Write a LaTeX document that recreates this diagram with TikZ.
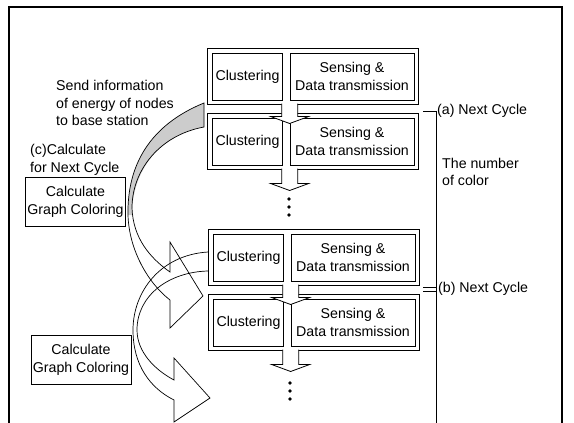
\documentclass[tikz,border=0pt]{standalone}
\usepackage{fontspec}
\setmainfont{Liberation Sans}
\usetikzlibrary{calc}

\tikzset{
  rowframe/.style={draw, line width=1pt, minimum width=211pt, minimum height=56pt, inner sep=0pt},
  cbox/.style={draw, line width=0.7pt, minimum width=70pt, minimum height=47pt, inner sep=0pt},
  sbox/.style={draw, line width=0.7pt, minimum width=124pt, minimum height=47pt, inner sep=0pt, align=center},
  gbox/.style={draw, line width=0.7pt, minimum width=100pt, minimum height=49pt, inner sep=1pt, align=center},
  flowarrow/.style={draw, fill=white, line width=0.8pt, line join=miter},
  bigarrow/.style={draw, line width=0.7pt, line join=miter},
}

% white block arrow hanging below a row: #1 = start point, #2 = shaft length
\newcommand{\flowdown}[2]{%
  \path[flowarrow] (#1) ++(-8,-1) -- ++(0,#2) -- ++(-11,0) -- ++(19,7) -- ++(19,-7) -- ++(-11,0) -- ++(0,-#2);}

\begin{document}
\begin{tikzpicture}[x=1pt, y=-1pt, every node/.style={font=\fontsize{14.2}{17.5}\selectfont}]
\useasboundingbox (0,0) rectangle (574,423);

% page border, open at the bottom
\draw[line width=1.1pt] (9,423) -- (9,7) -- (562,7) -- (562,423);

% cycle (a)
\node[rowframe] (r1) at (312.5,76) {};
\node[cbox] (c1) at (247.5,76.5) {Clustering};
\node[sbox] (s1) at (352,76.5) {Sensing \&\\Data transmission};
\node[rowframe] (r2) at (312.5,141) {};
\node[cbox] (c2) at (247.5,141.5) {Clustering};
\node[sbox] (s2) at (352,141.5) {Sensing \&\\Data transmission};

% cycle (b)
\node[rowframe] (r3) at (313.5,257) {};
\node[cbox] (c3) at (248.5,257.5) {Clustering};
\node[sbox] (s3) at (353,257.5) {Sensing \&\\Data transmission};
\node[rowframe] (r4) at (313.5,322) {};
\node[cbox] (c4) at (248.5,322.5) {Clustering};
\node[sbox] (s4) at (353,322.5) {Sensing \&\\Data transmission};

% arrows between the rows
\flowdown{r1.south -| s1.west}{13}
\flowdown{r2.south -| s2.west}{15}
\flowdown{r3.south -| s3.west}{13}
\flowdown{r4.south -| s4.west}{15}

% more cycles follow
\fill (289,199) circle (1.8) (289,207) circle (1.8) (289,215) circle (1.8);
\fill (290,383) circle (1.8) (290,391) circle (1.8) (290,399) circle (1.8);

% right side labels
\node[anchor=west, inner sep=1pt] (na) at (436,111) {(a) Next Cycle};
\coordinate (ta) at (423,111);
\draw[line width=0.7pt] (ta) -- (na.west) -- (na.west |- 0,423);
\node[anchor=west, inner sep=1pt] (nb) at (437,289) {(b) Next Cycle};
\coordinate (tb) at (423,289);
\draw[line width=0.7pt] ([yshift=-2pt]tb) -- ([yshift=-2pt]nb.west) ([yshift=2pt]tb) -- ([yshift=2pt]nb.west);
\node[anchor=west, align=left, inner sep=0pt] (ncol) at (442,172) {The number\\of color};

% left side
\node[anchor=west, align=left, inner sep=0pt] (info) at (56,103) {Send information\\of energy of nodes\\to base station};
\node[anchor=west, align=left, inner sep=0pt] (calc) at (30,160) {(c)Calculate\\for Next Cycle};
\node[gbox] (g1) at (75.5,202) {Calculate\\Graph Coloring};
\node[gbox] (g2) at (81,360) {Calculate\\Graph Coloring};

% second curved arrow, from cycle (b)
\draw[bigarrow] (208,252) .. controls (160,255) and (133,292) .. (133,330)
  .. controls (133,365) and (150,388) .. (174,400)
  -- (174,422) -- (210,398) -- (174,358) -- (174,380)
  .. controls (155,370) and (137,352) .. (137,330)
  .. controls (137,296) and (168,272) .. (208,271);

% first curved arrow, shaded where it leaves the base station
\begin{scope}
  \clip (100,90) rectangle (210,221);
  \fill[gray!40] (204,103) .. controls (150,125) and (127,165) .. (128,215)
    -- (132,215) .. controls (132,170) and (160,135) .. (204,127) -- cycle;
\end{scope}
\draw[bigarrow] (204,103) .. controls (150,125) and (127,165) .. (128,215)
  .. controls (129,250) and (148,283) .. (170,300)
  -- (170,328) -- (203,296) -- (170,242) -- (170,272)
  .. controls (150,258) and (133,238) .. (132,208)
  .. controls (132,170) and (160,135) .. (204,127) -- cycle;
\end{tikzpicture}
\end{document}
